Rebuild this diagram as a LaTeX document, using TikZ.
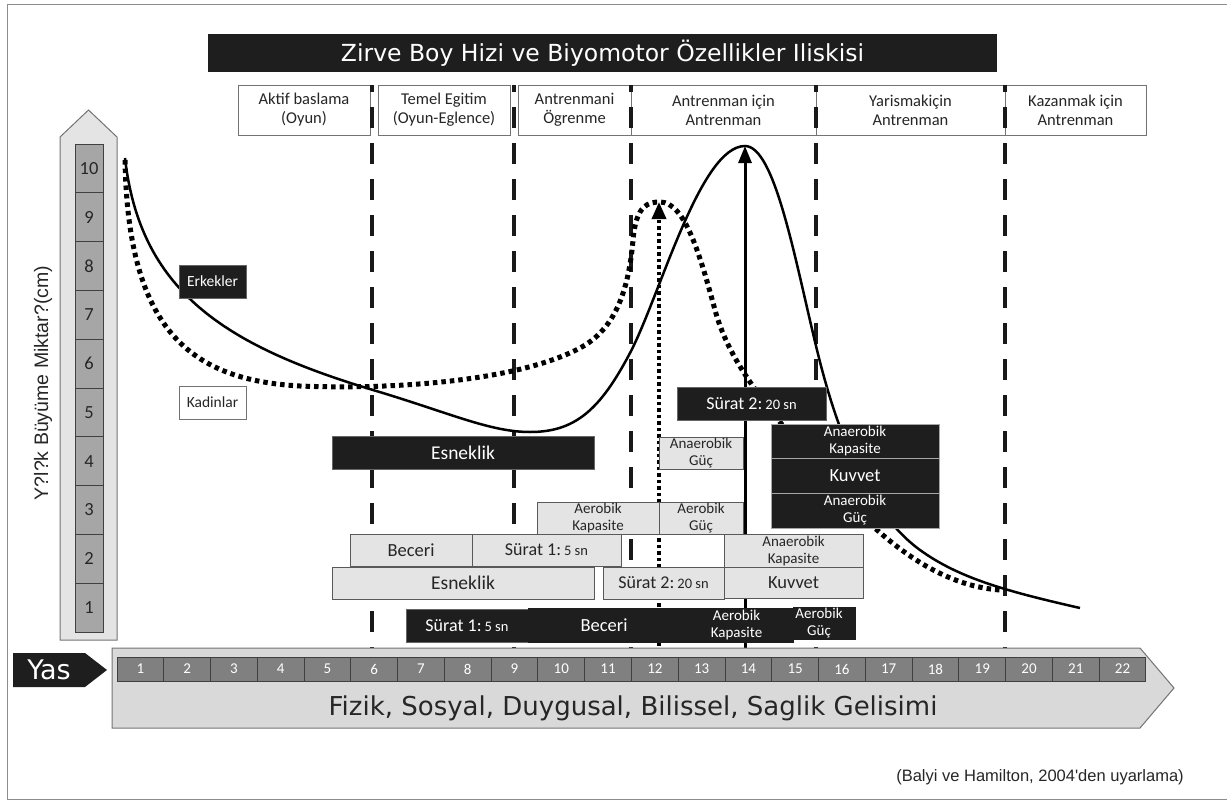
\documentclass[tikz,border=0pt]{standalone}
\usepackage{fontspec}
\usepackage{graphicx}
\setmainfont{Carlito}
\newfontfamily\dvs{DejaVu Sans}
\newfontfamily\lbs{Liberation Sans}
\usetikzlibrary{arrows.meta}
\newcommand\fsz[2]{\fontsize{#1}{#2}\selectfont}
\newcommand\boxat[7]{\node[#2,anchor=north west,minimum width=#5pt,minimum height=#6pt] (#1) at (#3,#4) {#7};}
\newcommand\sur[2]{{\fsz{18}{18}Sürat #1:} {\fsz{14.5}{14.5}#2 sn}}
\definecolor{blk}{HTML}{1E1E1E}
\definecolor{lgr}{HTML}{E4E4E4}
\tikzset{
  base/.style={inner sep=0pt,outer sep=0pt,align=center},
  hdr/.style={base,draw=black!55,line width=1pt,fill=white,font=\fsz{16.5}{19},text=black!85},
  lbox/.style={base,draw=black!65,line width=1pt,fill=lgr,text=black!85},
  bbox/.style={base,draw=black!60,line width=1pt,fill=blk,text=white},
  dashv/.style={line width=4pt,dash pattern=on 21pt off 15pt,dash phase=14pt,black!90},
  male/.style={line width=2.5pt,black},
  female/.style={line width=5pt,dash pattern=on 4.5pt off 4pt,black},
  vcell/.style={base,draw=black!75,fill=black!35,line width=1pt,minimum width=28pt,minimum height=48.8pt,font=\fsz{18.5}{18.5},text=black!85},
  acell/.style={base,draw=black!75,fill=black!50,line width=1pt,minimum width=46.77pt,minimum height=24pt,font=\fsz{15}{15},text=white},
  big/.style={font=\fsz{18.5}{20}},
  two/.style={font=\fsz{15}{17}},
}
\begin{document}
\begin{tikzpicture}[x=1pt,y=-1pt]
\useasboundingbox (0,0) rectangle (1227,801);
% frame
\draw[black!45,line width=1pt] (1227,4) -- (7.5,4) -- (7.5,799) -- (1227,799);
% title
\boxat{title}{base,fill=blk,text=white,font=\dvs\fsz{23.5}{25}}{208}{34}{789}{38}{Zirve Boy Hizi ve Biyomotor Özellikler Iliskisi}
% stage headers
\boxat{h1}{hdr}{238}{85}{132}{50}{Aktif baslama\\(Oyun)}
\boxat{h2}{hdr}{378}{85}{132}{50}{Temel Egitim\\(Oyun-Eglence)}
\boxat{h3}{hdr}{518}{85}{113}{50}{Antrenmani\\Ögrenme}
\boxat{h4}{hdr}{631}{85}{185}{50}{Antrenman için\\Antrenman}
\boxat{h5}{hdr}{816}{85}{189}{50}{Yarismakiçin\\Antrenman}
\boxat{h6}{hdr}{1005}{85}{141}{50}{Kazanmak için\\Antrenman}
% dashed separators
\foreach \x/\n in {372/a,514/b,631/c,816/d,1005/e}{
  \coordinate (dt\n) at (\x,85);
  \coordinate (db\n) at (\x,652);
  \draw[dashv] (dt\n) -- (db\n);
}
% curves
\draw[male] (125,158) .. controls (140,290) and (223,345) .. (373,390)
  .. controls (450,413) and (490,432) .. (530,432)
  .. controls (575,432) and (600,410) .. (630,353)
  .. controls (660,296) and (700,146) .. (745,146)
  .. controls (775,146) and (795,260) .. (817,350)
  .. controls (835,424) and (865,510) .. (920,550)
  .. controls (960,579) and (1010,592) .. (1080,608);
\draw[female] (125,160) .. controls (128,330) and (190,380) .. (300,386)
  .. controls (400,390) and (520,380) .. (580,348)
  .. controls (610,332) and (628,300) .. (633,240)
  .. controls (636,205) and (648,202) .. (660,202)
  .. controls (685,202) and (700,255) .. (715,310)
  .. controls (728,358) and (760,400) .. (820,470)
  .. controls (870,530) and (930,585) .. (1000,590);
% arrows
\coordinate (sa0) at (745,652); \coordinate (sa1) at (745,146);
\coordinate (da0) at (659,652); \coordinate (da1) at (659,202);
\draw[line width=3pt,-{Triangle[length=17pt,width=13pt]}] (sa0) -- (sa1);
\draw[line width=3.5pt,dash pattern=on 3.5pt off 3pt,-{Triangle[length=17pt,width=14pt]}] (da0) -- (da1);
% black boxes
\boxat{esnekb}{bbox,font=\fsz{19.5}{20}}{332}{436}{262}{33}{Esneklik}
\boxat{surat2b}{bbox}{677}{387}{149}{33}{\sur{2}{20}}
\boxat{anakapb}{bbox,draw=black!35,two}{771}{424}{168}{34}{Anaerobik\\Kapasite}
\boxat{kuvvetb}{bbox,draw=black!35,big}{771}{458}{168}{35}{Kuvvet}
\boxat{anagucb}{bbox,draw=black!35,two}{771}{493}{168}{35}{Anaerobik\\Güç}
% light boxes
\boxat{anaguc}{lbox,two}{659}{437}{84}{32}{Anaerobik\\Güç}
\boxat{aerkap}{lbox,two}{537}{502}{122}{32}{Aerobik\\Kapasite}
\boxat{aerguc}{lbox,two}{659}{502}{84}{32}{Aerobik\\Güç}
\boxat{beceri}{lbox,big}{350}{534}{122}{32}{Beceri}
\boxat{surat1l}{lbox}{472}{534}{149}{32}{\sur{1}{5}}
\boxat{esnekl}{lbox,font=\fsz{19.5}{20}}{332}{567}{262}{32}{Esneklik}
\boxat{surat2l}{lbox}{603}{567}{121}{32}{\sur{2}{20}}
\boxat{anakapl}{lbox,two}{724}{534}{139}{33}{Anaerobik\\Kapasite}
\boxat{kuvvetl}{lbox,big}{724}{567}{139}{31}{Kuvvet}
% bottom black row
\boxat{surat1b}{bbox}{406}{609}{122}{33}{\sur{1}{5}}
\boxat{becerib}{bbox,draw=blk,big}{528}{608}{152}{34}{Beceri}
\boxat{aerkapb}{bbox,draw=blk,two}{680}{608}{113}{34}{Aerobik\\Kapasite}
\boxat{aergucb}{bbox,draw=blk,two}{793}{607}{62}{32}{\hspace*{-10pt}Aerobik\\\hspace*{-10pt}Güç}
% legend
\boxat{erk}{bbox,font=\fsz{15.5}{16}}{179}{265}{67}{33}{Erkekler}
\boxat{kad}{hdr,font=\fsz{15.5}{16}}{179}{386}{67}{33}{Kadinlar}
% age bar
\draw[fill=black!15,draw=black!55,line width=1pt] (112,648) -- (1140,648) -- (1174,688) -- (1140,728) -- (112,728) -- cycle;
\foreach \i in {1,...,22}{
  \node[acell,anchor=north west] (a\i) at ({117+(\i-1)*46.77},657) {\i};
}
\node[base,font=\dvs\fsz{26}{27},text=black!85] (fizik) at (633,708) {Fizik, Sosyal, Duygusal, Bilissel, Saglik Gelisimi};
% Yas arrow
\fill[blk] (13,653) -- (85,653) -- (107,670) -- (85,687) -- (13,687) -- cycle;
\node[base,font=\dvs\fsz{27}{27},text=white] (yas) at (49,670) {Yas};
% vertical scale
\draw[fill=lgr,draw=black!55,line width=1pt] (60,640) -- (60,137) -- (88.5,110) -- (117,137) -- (117,640) -- cycle;
\foreach \i in {1,...,10}{
  \node[vcell,anchor=north west] (v\i) at (75,{632-\i*48.8}) {\i};
}
\node[base,rotate=90,font=\lbs\fsz{19.5}{20},text=black!85] (ylab) at (43,383) {Y?l?k Büyüme Miktar?(cm)};
% citation
\node[base,font=\lbs\fsz{16.5}{18},text=black!85] (cite) at (1040,777) {(Balyi ve Hamilton, 2004'den uyarlama)};
\end{tikzpicture}
\end{document}
